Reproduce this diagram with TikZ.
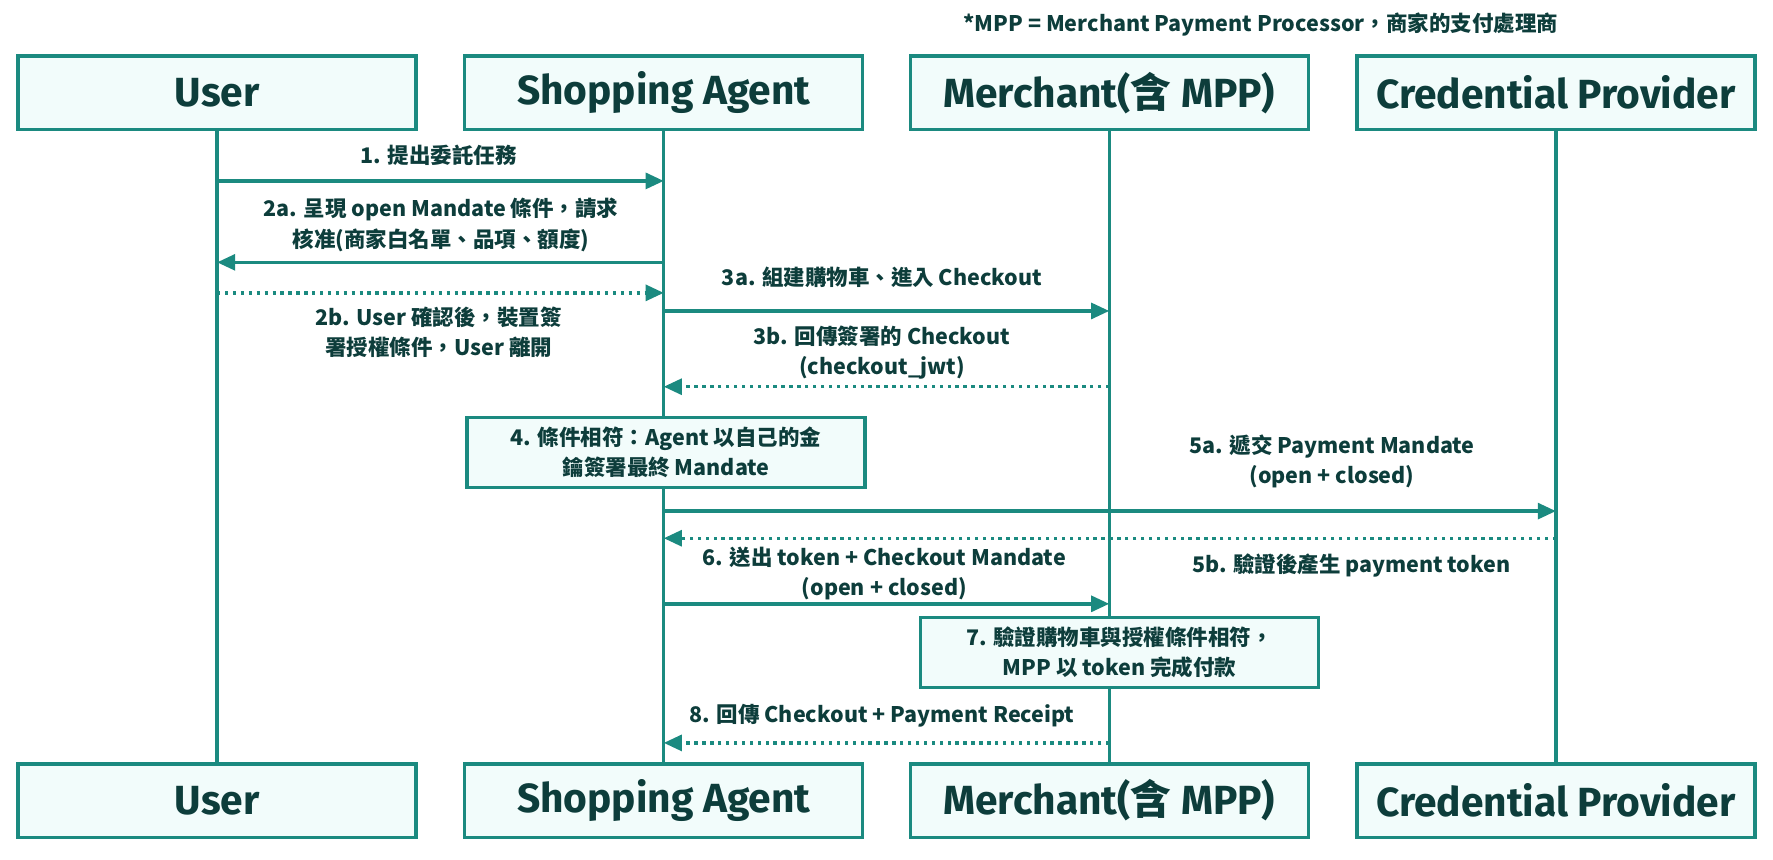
\documentclass[tikz,border=0pt]{standalone}
\usepackage{fontspec}
\setmainfont{Fira Sans}
\newfontfamily\cjk{Noto Sans CJK TC}
\usetikzlibrary{arrows.meta}
\definecolor{teal1}{HTML}{1B8A80}
\definecolor{tealfill}{HTML}{F2FCFB}
\definecolor{ink}{HTML}{0D3D3B}
\tikzset{
  actor/.style={draw=teal1, line width=1.5pt, fill=tealfill, minimum width=176pt, minimum height=32.5pt, font=\fontsize{18}{20}\selectfont\bfseries, text=ink},
  note/.style={draw=teal1, line width=1.5pt, fill=tealfill, minimum width=176pt, minimum height=31pt, align=center, font=\cjk\fontsize{9.5}{13.5}\selectfont\bfseries, text=ink},
  lbl/.style={align=center, font=\cjk\fontsize{9.5}{13.5}\selectfont\bfseries, text=ink},
  life/.style={teal1, line width=1.5pt},
  msg/.style={teal1, line width=1.5pt, -{Triangle[length=8pt,width=7pt]}},
  ret/.style={msg, dotted}
}
\begin{document}
\begin{tikzpicture}[x=0.5pt,y=-0.5pt]
\useasboundingbox (0,0) rectangle (1568,760);
% actors
\node[actor] (userT) at (192,82) {User};
\node[actor] (agentT) at (587,82) {Shopping Agent};
\node[actor] (merT) at (981,82) {Merchant({\cjk 含} MPP)};
\node[actor] (credT) at (1376,82) {Credential Provider};
\node[actor] (userB) at (192,708) {User};
\node[actor] (agentB) at (587,708) {Shopping Agent};
\node[actor] (merB) at (981,708) {Merchant({\cjk 含} MPP)};
\node[actor] (credB) at (1376,708) {Credential Provider};
\node[lbl] (mpp) at (1115,22) {*MPP = Merchant Payment Processor，商家的支付處理商};
% lifelines
\draw[life] (userT) -- (userB);
\draw[life] (agentT) -- (agentB);
\draw[life] (merT) -- (merB);
\draw[life] (credT) -- (credB);
% message anchors
\foreach \n/\y in {1/160,2/232,3/259,4/275,5/342,6/452,7/476,8/534,9/657}{
  \coordinate (u\n) at (192,\y);
  \coordinate (a\n) at (587,\y);
  \coordinate (m\n) at (981,\y);
  \coordinate (c\n) at (1376,\y);
}
\draw[msg] (u1) -- (a1);
\node[lbl] (l1) at (388,137) {1. 提出委託任務};
\draw[msg] (a2) -- (u2);
\node[lbl] (l2a) at (390,199) {2a. 呈現 open Mandate 條件，請求\\核准(商家白名單、品項、額度)};
\draw[ret] (u3) -- (a3);
\node[lbl] (l2b) at (388,294) {2b. User 確認後，裝置簽\\署授權條件，User 離開};
\draw[msg] (a4) -- (m4);
\node[lbl] (l3a) at (780,245) {3a. 組建購物車、進入 Checkout};
\draw[ret] (m5) -- (a5);
\node[lbl] (l3b) at (780,312) {3b. 回傳簽署的 Checkout\\(checkout\_jwt)};
\node[note] (n4) at (589,400) {4. 條件相符：Agent 以自己的金\\鑰簽署最終 Mandate};
\draw[msg] (a6) -- (c6);
\node[lbl] (l5a) at (1178,408) {5a. 遞交 Payment Mandate\\(open + closed)};
\draw[ret] (c7) -- (a7);
\node[lbl] (l5b) at (1195,500) {5b. 驗證後產生 payment token};
\draw[msg] (a8) -- (m8);
\node[lbl] (l6) at (782,507) {6. 送出 token + Checkout Mandate\\(open + closed)};
\node[note] (n7) at (990,577) {7. 驗證購物車與授權條件相符，\\MPP 以 token 完成付款};
\draw[ret] (m9) -- (a9);
\node[lbl] (l8) at (780,633) {8. 回傳 Checkout + Payment Receipt};
\end{tikzpicture}
\end{document}
